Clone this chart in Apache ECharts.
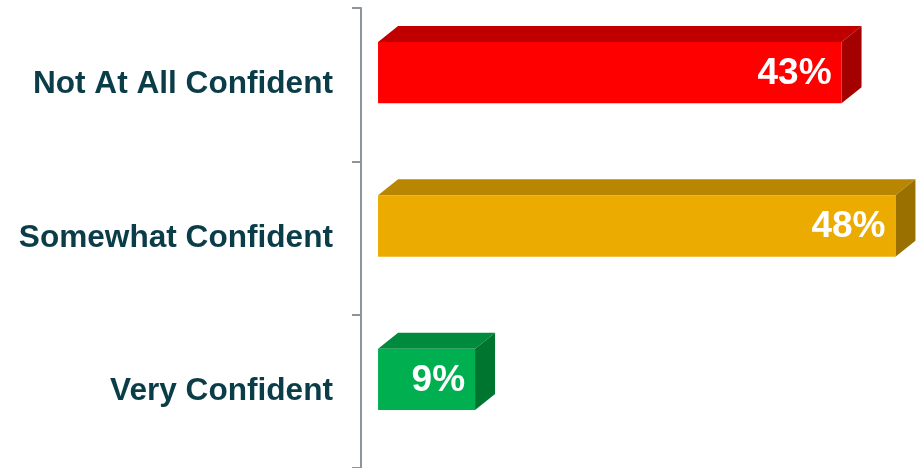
<!DOCTYPE html>
<html>
<head>
<meta charset="utf-8">
<script src="https://cdn.jsdelivr.net/npm/echarts@6/dist/echarts.min.js"></script>
<style>
  html, body { margin: 0; padding: 0; background: #ffffff; }
  #chart { width: 917px; height: 468px; }
</style>
</head>
<body>
<div id="chart"></div>
<script>
// Confidence levels (top to bottom) and their shares in percent
const categories = ['Not At All Confident', 'Somewhat Confident', 'Very Confident'];
const shares = [43, 48, 9];
const shareLabels = ['43%', '48%', '9%'];

// Face colours for each block: front, top, side
const frontColors = ['#ff0000', '#ebab00', '#00b050'];
const topColors = ['#c00000', '#b88600', '#008a3e'];
const sideColors = ['#a40000', '#9a7000', '#007530'];

const chart = echarts.init(document.getElementById('chart'), null, { renderer: 'canvas' });

const depthX = 20;
const depthY = 16;

function renderBlock(params, api) {
  const value = api.value(0);
  const idx = api.value(1);
  const band = api.size([0, 1])[1];
  const start = api.coord([0, idx]);
  const end = api.coord([value, idx]);
  const h = band * 0.4;
  const cy = start[1] - band * 0.078;
  const x0 = start[0], x1 = end[0];
  const y0 = cy - h / 2, y1 = cy + h / 2;
  return {
    type: 'group',
    children: [
      {
        type: 'polygon',
        shape: { points: [[x0, y0], [x0 + depthX, y0 - depthY], [x1 + depthX, y0 - depthY], [x1, y0]] },
        style: { fill: topColors[idx] }
      },
      {
        type: 'polygon',
        shape: { points: [[x1, y0], [x1 + depthX, y0 - depthY], [x1 + depthX, y1 - depthY], [x1, y1]] },
        style: { fill: sideColors[idx] }
      },
      {
        type: 'rect',
        shape: { x: x0, y: y0, width: x1 - x0, height: y1 - y0 },
        style: { fill: frontColors[idx] }
      },
      {
        type: 'text',
        x: x1 - 10,
        y: cy + 1,
        style: {
          text: shareLabels[idx],
          fill: '#ffffff',
          font: 'bold 37px "Liberation Sans", Arial, sans-serif',
          align: 'right',
          verticalAlign: 'middle'
        }
      }
    ]
  };
}

chart.setOption({
  animation: false,
  grid: { left: 361, right: 0, top: 8, bottom: 0, containLabel: false },
  xAxis: {
    type: 'value',
    min: -1.58,
    max: 50,
    show: false
  },
  yAxis: {
    type: 'category',
    inverse: true,
    data: categories,
    axisLine: { show: true, onZero: false, lineStyle: { color: '#8c9599', width: 2 } },
    axisTick: { show: true, length: 9, lineStyle: { color: '#8c9599', width: 2 } },
    axisLabel: {
      margin: 28,
      color: '#0b3d49',
      fontSize: 31.6,
      fontWeight: 'bold',
      fontFamily: '"Liberation Sans", Arial, sans-serif'
    },
    splitLine: { show: false }
  },
  series: [{
    type: 'custom',
    renderItem: renderBlock,
    encode: { x: 0, y: 1 },
    data: shares.map((v, i) => [v, i])
  }]
});
</script>
</body>
</html>
